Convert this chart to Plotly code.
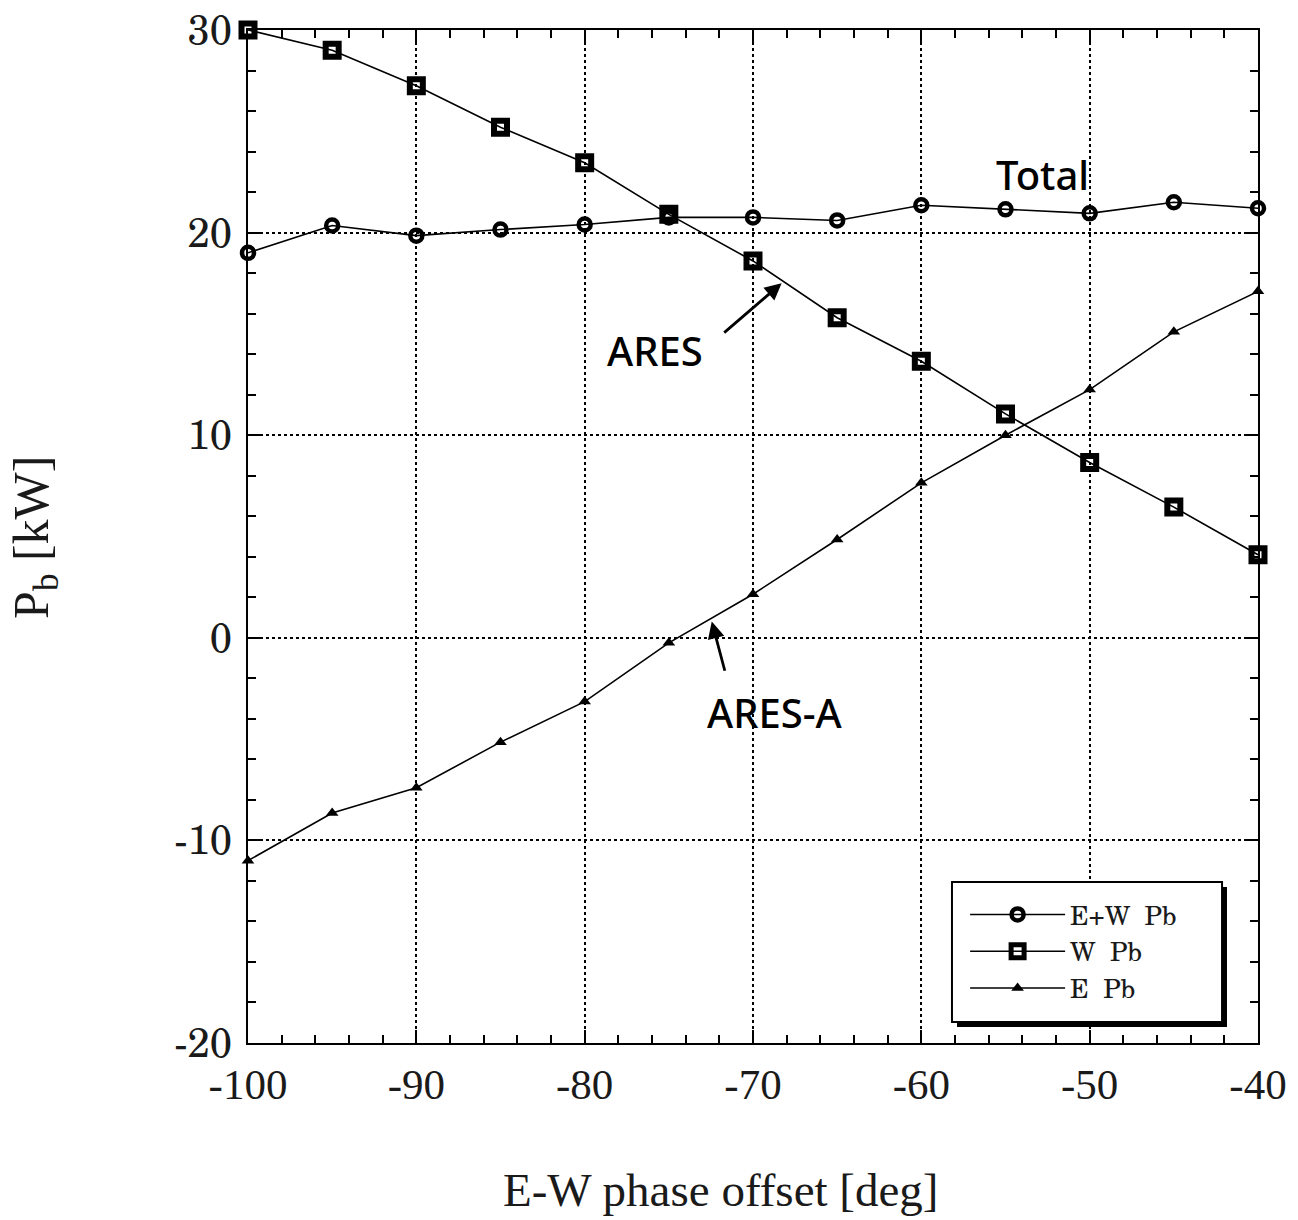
import plotly.graph_objects as go

# E-W phase offset [deg]
phase = [-100, -95, -90, -85, -80, -75, -70, -65, -60, -55, -50, -45, -40]

# Power per branch [kW]
ew_pb = [19.0, 20.35, 19.85, 20.15, 20.4, 20.75, 20.75, 20.6, 21.35, 21.15, 20.95, 21.5, 21.2]
w_pb = [30.0, 29.0, 27.25, 25.2, 23.45, 20.9, 18.6, 15.8, 13.65, 11.05, 8.65, 6.45, 4.1]
e_pb = [-11.0, -8.65, -7.4, -5.15, -3.15, -0.25, 2.15, 4.85, 7.65, 10.0, 12.25, 15.1, 17.1]

x_ticks = [-100, -90, -80, -70, -60, -50, -40]
y_ticks = [-20, -10, 0, 10, 20, 30]

SERIF_X = "Liberation Serif, Times New Roman, serif"
SERIF_Y = "Century Schoolbook, TeX Gyre Schola, DejaVu Serif, serif"
HAND = "Noto Sans, Lato, DejaVu Sans, sans-serif"

fig = go.Figure()

fig.add_trace(go.Scatter(
    x=phase, y=ew_pb, name="E+W  Pb", mode="lines+markers",
    line=dict(color="black", width=1.6),
    marker=dict(symbol="circle-open", size=12, color="black", line=dict(width=4.5, color="black")),
    cliponaxis=False,
))
fig.add_trace(go.Scatter(
    x=phase, y=w_pb, name="W  Pb", mode="lines+markers",
    line=dict(color="black", width=1.6),
    marker=dict(symbol="square-open", size=13, color="black", line=dict(width=6, color="black")),
    cliponaxis=False,
))
fig.add_trace(go.Scatter(
    x=phase, y=e_pb, name="E  Pb", mode="lines+markers",
    line=dict(color="black", width=1.6),
    marker=dict(symbol="triangle-up", size=11, color="black"),
    cliponaxis=False,
))

axis_common = dict(
    showline=True, linecolor="black", linewidth=2, mirror="ticks",
    ticks="inside", ticklen=13, tickwidth=1.5, tickcolor="black",
    showgrid=True, gridcolor="black", griddash="dot", gridwidth=1.5,
    zeroline=False, automargin=False, ticklabeloverflow="allow",
)
minor_ticks = dict(dtick=2, ticks="inside", ticklen=8, tickwidth=1.5, tickcolor="black", showgrid=False)

fig.update_xaxes(
    range=[-100, -40], tickvals=x_ticks, ticktext=[str(v) for v in x_ticks],
    minor=minor_ticks, ticklabelstandoff=2,
    tickfont=dict(family=SERIF_X, size=43, color="#1a1a1a"),
    **axis_common,
)
fig.update_yaxes(
    range=[-20, 30], tickvals=y_ticks, ticktext=[str(v) for v in y_ticks],
    minor=minor_ticks, ticklabelstandoff=6,
    tickfont=dict(family=SERIF_Y, size=40, color="#1a1a1a"),
    **axis_common,
)

# Legend frame with drop shadow (legend itself is drawn on top)
fig.add_shape(type="rect", xref="paper", yref="paper",
              x0=0.702, x1=0.9693, y0=0.0158, y1=0.154,
              fillcolor="black", line=dict(width=0), layer="above")
fig.add_shape(type="rect", xref="paper", yref="paper",
              x0=0.697, x1=0.9644, y0=0.0207, y1=0.159,
              fillcolor="white", line=dict(color="black", width=2), layer="above")

fig.update_layout(
    width=1298, height=1220,
    margin=dict(l=248, r=40, t=30, b=177),
    plot_bgcolor="white", paper_bgcolor="white",
    showlegend=True,
    legend=dict(
        x=0.71, y=0.150, xanchor="left", yanchor="top",
        bgcolor="rgba(0,0,0,0)", borderwidth=0,
        font=dict(family=SERIF_Y, size=26, color="#1a1a1a"),
        itemwidth=95, tracegroupgap=0,
    ),
    annotations=[
        # axis titles
        dict(x=0.468, y=-0.145, xref="paper", yref="paper", text="E-W phase offset [deg]",
             showarrow=False, xanchor="center", yanchor="middle",
             font=dict(family=SERIF_X, size=47, color="#1a1a1a")),
        dict(x=-0.211, y=0.4995, xref="paper", yref="paper", text="P<sub>b</sub> [kW]",
             showarrow=False, xanchor="center", yanchor="middle", textangle=-90,
             font=dict(family=SERIF_X, size=50, color="#1a1a1a")),
        # hand-written labels
        dict(x=-52.8, y=22.85, xref="x", yref="y", text="Total", showarrow=False,
             font=dict(family=HAND, size=40, color="black", weight=500)),
        dict(x=-75.8, y=14.2, xref="x", yref="y", text="ARES", showarrow=False,
             font=dict(family=HAND, size=40, color="black", weight=500)),
        dict(x=-68.7, y=-3.7, xref="x", yref="y", text="ARES-A", showarrow=False,
             font=dict(family=HAND, size=40, color="black", weight=500)),
        dict(x=-68.3, y=17.5, ax=-71.8, ay=15.0, xref="x", yref="y", axref="x", ayref="y",
             text="", showarrow=True, arrowhead=2, arrowsize=1.2, arrowwidth=2.8, arrowcolor="black"),
        dict(x=-72.45, y=0.8, ax=-71.65, ay=-1.7, xref="x", yref="y", axref="x", ayref="y",
             text="", showarrow=True, arrowhead=2, arrowsize=1.2, arrowwidth=2.8, arrowcolor="black"),
    ],
)

fig.write_html("out.html")
